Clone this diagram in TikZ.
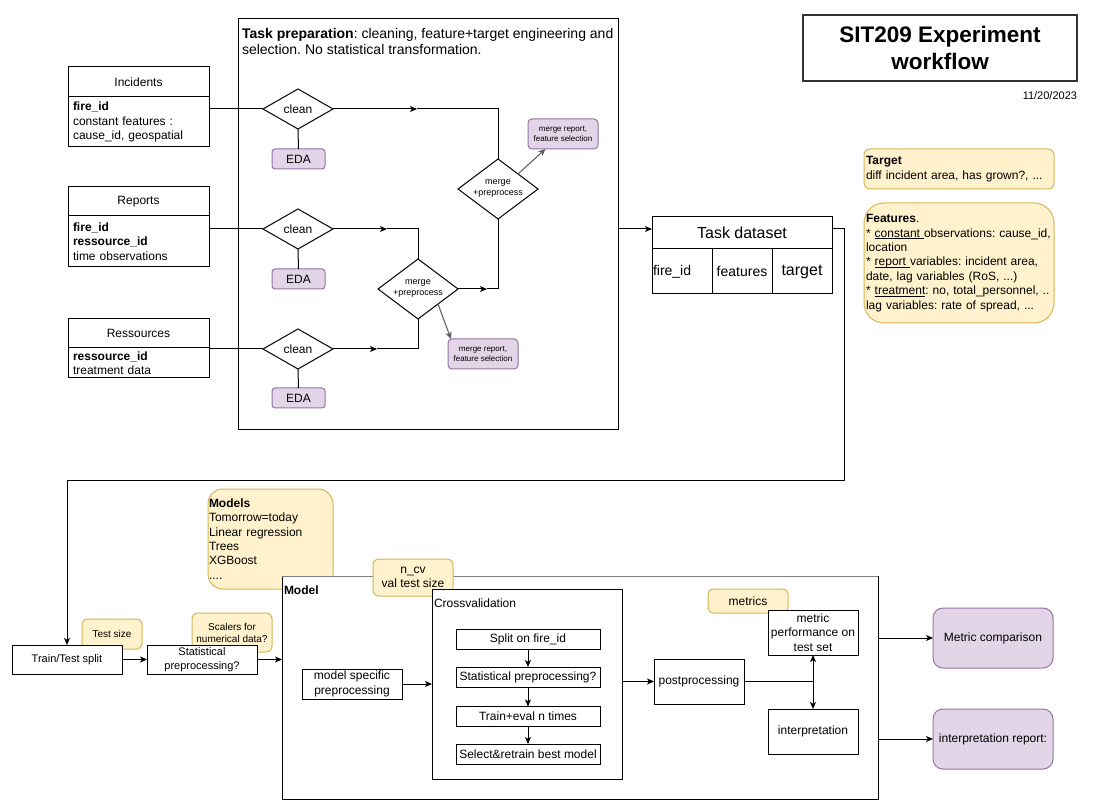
\documentclass[tikz,border=0pt]{standalone}
\usepackage{fontspec}
\setmainfont{Liberation Sans}
\usetikzlibrary{shapes.geometric,arrows.meta,calc}
\definecolor{ylwF}{HTML}{FFF2CC}
\definecolor{ylwD}{HTML}{D6B656}
\definecolor{prpF}{HTML}{E1D5E7}
\definecolor{prpD}{HTML}{9673A6}
\frenchspacing
\newcommand\myul[1]{\setbox0\hbox{#1}\rlap{\rule[-1.7pt]{\wd0}{0.8pt}}\box0}
\begin{document}
\begin{tikzpicture}[x=1pt,y=-1pt,
  every node/.style={inner sep=0pt, outer sep=0pt},
  ln/.style={line width=1pt},
  arr/.style={ln,-{Stealth[length=7pt,width=6pt,inset=1.8pt]}},
  garr/.style={arr,draw=black!65},
  f8/.style={font=\fontsize{8}{10}\selectfont},
  f9/.style={font=\fontsize{9}{11}\selectfont},
  f10/.style={font=\fontsize{10}{12}\selectfont},
  f11/.style={font=\fontsize{11}{14.5}\selectfont},
  f12/.style={font=\fontsize{12}{14.4}\selectfont},
  f14/.style={font=\fontsize{14}{16}\selectfont},
  f16/.style={font=\fontsize{16}{19}\selectfont},
  bx/.style={draw, ln, fill=white, rectangle},
  note/.style={draw=ylwD, fill=ylwF, ln, rounded corners=#1},
  note/.default=5,
  prp/.style={draw=prpD, fill=prpF, ln, rounded corners=#1},
  prp/.default=4,
  dia/.style={draw, ln, fill=white, diamond}]
\useasboundingbox[fill=white] (0,0) rectangle (1120,810);

% ---------- Task preparation container ----------
\node[bx, minimum width=380, minimum height=411] (tp) at (428,224.5) {};
\node[anchor=north west, align=left, f14] (tptext) at (242,28.5)
  {\textbf{Task preparation}: cleaning, feature+target engineering and\\selection. No statistical transformation.};

% ---------- source tables ----------
\node[bx, minimum width=141, minimum height=30, f12] (incH) at (138.5,82) {Incidents};
\node[bx, minimum width=141, minimum height=50, f12, align=left, text width=131] (incB) at (138.5,122)
  {\textbf{fire\_id}\\constant features :\\cause\_id, geospatial};
\node[bx, minimum width=141, minimum height=29, f12] (repH) at (138.5,201.5) {Reports};
\node[bx, minimum width=141, minimum height=51, f12, align=left, text width=131] (repB) at (138.5,241.5)
  {\textbf{fire\_id}\\\textbf{ressource\_id}\\time observations};
\node[bx, minimum width=141, minimum height=29, f12] (resH) at (138.5,333.5) {Ressources};
\node[bx, minimum width=141, minimum height=30, f12, align=left, text width=131] (resB) at (138.5,363)
  {\textbf{ressource\_id}\\treatment data};

% ---------- clean diamonds + EDA ----------
\node[dia, minimum width=70, minimum height=40, label={[f12]center:clean}] (cl1) at (298,109) {};
\node[dia, minimum width=70, minimum height=40, label={[f12]center:clean}] (cl2) at (298,229) {};
\node[dia, minimum width=70, minimum height=40, label={[f12]center:clean}] (cl3) at (298,349) {};
\node[prp=3, minimum width=53, minimum height=20, f12] (eda1) at (298.5,159) {EDA};
\node[prp=3, minimum width=53, minimum height=20, f12] (eda2) at (298.5,279) {EDA};
\node[prp=3, minimum width=53, minimum height=20, f12] (eda3) at (298.5,398) {EDA};
\draw[ln] (cl1.south) -- (eda1.north);
\draw[ln] (cl2.south) -- (eda2.north);
\draw[ln] (cl3.south) -- (eda3.north);

% ---------- merge diamonds ----------
\node[dia, minimum width=80, minimum height=60, label={[f9,align=center]center:merge\\+preprocess}] (m1) at (498,189) {};
\node[dia, minimum width=80, minimum height=60, label={[f9,align=center]center:merge\\+preprocess}] (m2) at (418,289) {};
\node[prp=4, minimum width=70, minimum height=30, f8, align=center] (mr1) at (563,134) {merge report,\\feature selection};
\node[prp=4, minimum width=70, minimum height=30, f8, align=center] (mr2) at (483,354) {merge report,\\feature selection};

% connectors from tables
\draw[ln] (incB.east |- cl1.west) -- (cl1.west);
\draw[ln] (repB.east |- cl2.west) -- (cl2.west);
\draw[ln] (resB.east |- cl3.west) -- (cl3.west);

% clean -> merge
\coordinate (a1) at (417,109);
\coordinate (a2) at (387,229);
\coordinate (a3) at (377,349);
\coordinate (a4) at (487,289);
\draw[arr] (cl1.east) -- (a1);
\draw[ln] (a1) -- (a1 -| m1.north) -- (m1.north);
\draw[arr] (cl2.east) -- (a2);
\draw[ln] (a2) -- (a2 -| m2.north) -- (m2.north);
\draw[arr] (cl3.east) -- (a3);
\draw[ln] (a3) -- (a3 -| m2.south) -- (m2.south);
\draw[arr] (m2.east) -- (a4);
\draw[ln] (a4) -- (a4 -| m1.south) -- (m1.south);
\draw[garr] (m1.north east) -- ($(mr1.south west)!0.25!(mr1.south east)$);
\draw[garr] (m2.south east) -- ($(mr2.north west)+(3,0)$);

% ---------- Task dataset ----------
\node[bx, minimum width=180, minimum height=32, f16] (tdH) at (742,233) {Task dataset};
\node[bx, minimum width=60, minimum height=45, f14, align=left, text width=58] (tc1) at (682,271.5) {fire\_id};
\node[bx, minimum width=60, minimum height=45, f14] (tc2) at (742,271.5) {features};
\node[bx, minimum width=60, minimum height=45, f16] (tc3) at (802,271.5) {target};
\coordinate (tdIn) at (652,229);
\coordinate (tdOut) at (832,229);
\draw[arr] (tp.east |- tdIn) -- (tdIn);

% ---------- title ----------
\node[draw=black!80, line width=1.5pt, fill=white, minimum width=274, minimum height=66, align=center,
  font=\fontsize{22.5}{27}\selectfont\bfseries] (ttl) at (940,48) {SIT209 Experiment\\workflow};
\node[anchor=east, font=\fontsize{11}{13}\selectfont] (date) at (1077,96) {11/20/2023};

% ---------- notes on the right ----------
\node[note=6, minimum width=190, minimum height=40, f12, align=left, text width=186] (tg) at (959,169)
  {\textbf{Target}\\diff incident area, has grown?, ...};
\node[note=20, minimum width=190, minimum height=120, f12, align=left, text width=186] (ft) at (959,263)
  {\textbf{Features}.\\{}%
   * \myul{constant }observations: cause\_id,\\{}%
   location\\{}%
   * \myul{report }variables: incident area,\\{}%
   date, lag variables (RoS, ...)\\{}%
   * \myul{treatment}: no, total\_personnel, ..\\{}%
   lag variables: rate of spread, ...};

% ---------- bottom row ----------
\node[note=5, minimum width=60, minimum height=30, f10] (tsz) at (112,634) {Test size};
\node[bx, minimum width=110, minimum height=29, f11] (tts) at (67,659.5) {Train/Test split};
\node[note=6, minimum width=80, minimum height=39, f10, align=center] (scl) at (232,632.5) {Scalers for\\numerical data?};
\node[bx, minimum width=110, minimum height=29, f11, align=center] (stat) at (202,659.5) {Statistical\\preprocessing?};
\node[note=15, minimum width=125, minimum height=100, f12, align=left, text width=123] (mdl) at (270.5,539)
  {\textbf{Models}\\Tomorrow=today\\Linear regression\\Trees\\XGBoost\\....};

\node[bx, minimum width=596, minimum height=223] (model) at (580,687.5) {};
\draw[ln, draw=black!50] (model.north west) -- (model.north east);
\node[anchor=west, font=\fontsize{12}{14.4}\selectfont\bfseries] (modelt) at (284,590) {Model};
\node[note=6, minimum width=80, minimum height=37, f12, align=center] (ncv) at (413,577.5) {n\_cv\\val test size};
\node[bx, minimum width=190, minimum height=190] (cv) at (527,684) {};
\node[anchor=west, f12] (cvt) at (434,603) {Crossvalidation};
\node[bx, minimum width=144, minimum height=20, f12] (spl) at (528,639) {Split on fire\_id};
\node[bx, minimum width=144, minimum height=20, f12] (sp2) at (528,677) {Statistical preprocessing?};
\node[bx, minimum width=144, minimum height=20, f12] (trn) at (528,716.5) {Train+eval n times};
\node[bx, minimum width=144, minimum height=20, f12] (sel) at (528,754) {Select\&retrain best model};
\draw[arr] (spl.south) -- (sp2.north);
\draw[arr] (sp2.south) -- (trn.north);
\draw[arr] (trn.south) -- (sel.north);

\node[bx, minimum width=100, minimum height=30, f12, align=center] (msp) at (352,684) {model specific\\preprocessing};
\node[bx, minimum width=90, minimum height=45, f12] (post) at (699,681.5) {postprocessing};
\node[note=5, minimum width=80, minimum height=24, f12] (mtr) at (748,601) {metrics};
\node[bx, minimum width=90, minimum height=45, f12, align=center] (mp) at (813,632.5) {metric\\performance on\\test set};
\node[bx, minimum width=90, minimum height=45, f12] (interp) at (813,731.5) {interpretation};

\node[prp=10, minimum width=120, minimum height=60, f12] (mc) at (993,638) {Metric comparison};
\node[prp=10, minimum width=120, minimum height=60, f12] (ir) at (993,739) {interpretation report:};

% bottom connectors
\draw[arr] (tdOut) -- ++(12,0) coordinate (tdR) -- (tdR |- 0,480) coordinate (tdD) -- (tdD -| tts.north) -- (tts.north);
\draw[arr] (tts.east) -- (stat.west);
\draw[arr] (stat.east) -- (model.west |- stat.east);
\draw[arr] (msp.east) -- (cv.west |- msp.east);
\draw[arr] (cv.east |- post.west) -- (post.west);
\coordinate (jn) at (mp.south |- post.east);
\draw[ln] (post.east) -- (jn);
\draw[arr] (jn) -- (mp.south);
\draw[arr] (jn) -- (interp.north);
\draw[arr] (model.east |- mc.west) -- (mc.west);
\draw[arr] (model.east |- ir.west) -- (ir.west);
\end{tikzpicture}
\end{document}
